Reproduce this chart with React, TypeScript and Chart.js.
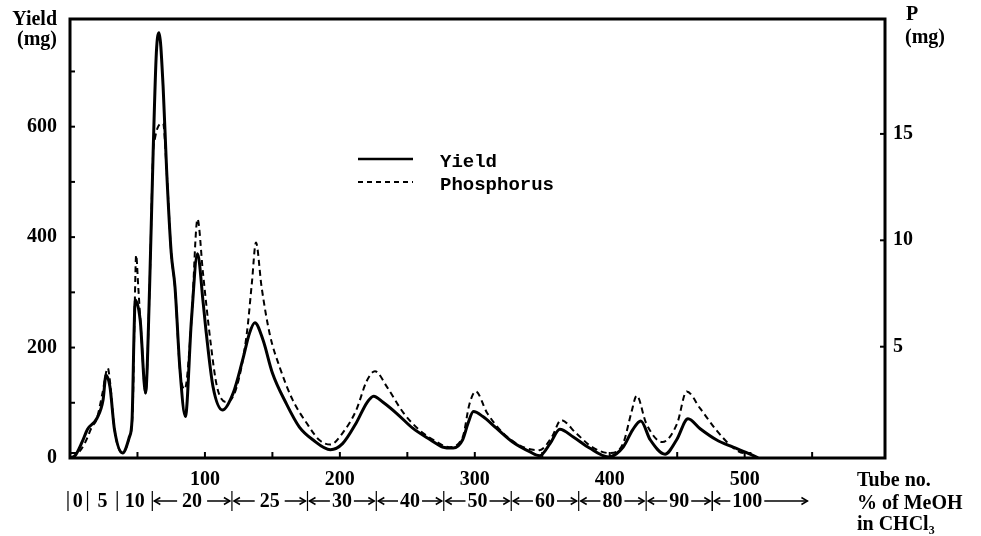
import { useEffect, useRef } from 'react';
import { Chart, registerables } from 'chart.js';

Chart.register(...registerables);

// Yield (mg), left axis
const yieldTubes = [0, 4, 9, 13, 20, 24.5, 26.7, 29.6, 33, 39, 44, 46, 47.5, 48.3, 52, 56, 59, 61.6, 64, 66, 69, 71.6, 75, 77.8, 81.5, 85.5, 90, 94.5, 98.7, 101, 106, 113, 121, 128, 133, 137, 143, 150, 160, 170, 180, 193, 202, 212, 220, 225, 232, 242, 254, 267, 276, 284, 291, 295, 299, 306, 316, 328, 341, 348, 356, 363, 373, 385, 399, 410, 417, 423, 430, 441, 449.6, 458, 467, 479, 491, 504, 510];
const yieldValues = [0, 5, 29, 52, 72, 105, 150, 129, 51, 9, 38, 70, 230, 286, 250, 118, 310, 552, 734, 770, 673, 522, 372, 310, 160, 75, 250, 370, 281, 226, 129, 87, 118, 178, 226, 245, 214, 154, 100, 56, 33, 15, 26, 63, 100, 112, 101, 81, 54, 33, 20, 18, 33, 63, 84, 75, 54, 29, 11, 4, 27, 52, 38, 18, 2, 20, 51, 67, 33, 7, 33, 71, 53, 33, 20, 7, 0];

// Phosphorus (mg), right axis
const phosTubes = [0, 5, 11, 16, 20, 24, 28, 29.6, 33, 39, 44, 46.4, 48, 49, 50.6, 53, 56, 59, 61.6, 63, 65, 69, 71.6, 75, 77.8, 81.5, 85, 90, 94.5, 98.5, 104, 109, 116, 123.5, 131, 134.8, 137.8, 142, 148, 155.6, 165, 175.5, 185, 193, 202, 212, 220, 226, 235, 247, 259, 272, 281, 291, 296, 300.7, 309, 321, 336, 348, 357, 364, 375, 387, 400, 410, 416, 420, 427, 439, 450, 457, 467, 479, 491, 499, 505];
const phosValues = [0, 0, 0.47, 1.2, 1.64, 2.8, 4.0, 3.4, 1.1, 0, 0.75, 1.9, 7.0, 9.3, 7.8, 5.4, 2.8, 7.8, 14.1, 14.8, 15.3, 15.5, 13.3, 9.4, 7.8, 3.9, 3.0, 6.2, 11.0, 8.5, 5.3, 3.1, 2.4, 3.1, 5.6, 8.0, 9.9, 7.8, 5.6, 4.0, 2.5, 1.4, 0.6, 0.4, 0.94, 2.0, 3.4, 3.85, 3.1, 1.9, 1.08, 0.52, 0.28, 0.75, 2.3, 2.9, 1.9, 0.94, 0.28, 0.14, 0.75, 1.55, 0.94, 0.28, 0, 0.47, 1.9, 2.7, 1.4, 0.52, 1.4, 2.9, 2.1, 1.08, 0.28, 0, 0];

// Axis ticks
const tubeTicks = [0, 50, 100, 150, 200, 250, 300, 350, 400, 450, 500, 550, 600];
const tubeTickLabels = [100, 200, 300, 400, 500];
const yieldTicks = [0, 100, 200, 300, 400, 500, 600, 700];
const yieldTickLabels = [0, 200, 400, 600];
const phosTicks = [5, 10, 15];

// % of MeOH in CHCl3 segments (tube numbers)
const meohLabels = ['0', '5', '10', '20', '25', '30', '40', '50', '60', '80', '90', '100'];
const meohBounds = [-1.5, 13, 35, 61, 120, 176, 227, 277, 327, 377, 427, 476, 548];

const seriesNames = ['Yield', 'Phosphorus'];

const SERIF = '"Liberation Serif", "Times New Roman", serif';
const MONO = '"Liberation Mono", "Courier New", monospace';

function arrowHead(ctx: CanvasRenderingContext2D, x: number, y: number, dir: number) {
  ctx.beginPath();
  ctx.moveTo(x - dir * 6, y - 3.5);
  ctx.lineTo(x, y);
  ctx.lineTo(x - dir * 6, y + 3.5);
  ctx.stroke();
}

const decorPlugin = {
  id: 'decor',
  afterDraw(chart: any) {
    const ctx: CanvasRenderingContext2D = chart.ctx;
    const { left, right, top, bottom } = chart.chartArea;
    const xs = chart.scales.x;
    const ys = chart.scales.y;
    const y2 = chart.scales.y2;
    ctx.save();
    ctx.strokeStyle = '#000';
    ctx.fillStyle = '#000';

    // frame
    ctx.lineWidth = 3;
    ctx.strokeRect(left, top, right - left, bottom - top);

    // inner tick marks
    ctx.lineWidth = 2;
    xs.ticks.forEach((t: any) => {
      if (t.value <= 0 || t.value >= 600) return;
      const px = xs.getPixelForValue(t.value);
      ctx.beginPath();
      ctx.moveTo(px, bottom);
      ctx.lineTo(px, bottom - 6);
      ctx.stroke();
    });
    ys.ticks.forEach((t: any) => {
      if (t.value <= 0) return;
      const py = ys.getPixelForValue(t.value);
      ctx.beginPath();
      ctx.moveTo(left, py);
      ctx.lineTo(left + 5, py);
      ctx.stroke();
    });
    y2.ticks.forEach((t: any) => {
      const py = y2.getPixelForValue(t.value);
      ctx.beginPath();
      ctx.moveTo(right, py);
      ctx.lineTo(right - 5, py);
      ctx.stroke();
    });

    // axis titles
    ctx.font = `bold 20px ${SERIF}`;
    ctx.textBaseline = 'alphabetic';
    ctx.textAlign = 'right';
    ctx.fillText('Yield', 57, 25);
    ctx.fillText('(mg)', 57, 45);
    ctx.textAlign = 'left';
    ctx.fillText('P', 906, 20);
    ctx.fillText('(mg)', 905, 43);
    ctx.fillText('Tube no.', 857, 486);
    ctx.fillText('% of MeOH', 857, 509);
    ctx.fillText('in CHCl\u2083', 857, 530);

    // MeOH segments
    const rowY = 501;
    ctx.lineWidth = 1.2;
    for (let i = 0; i < meohLabels.length; i++) {
      const x0 = xs.getPixelForValue(meohBounds[i]);
      const x1 = xs.getPixelForValue(meohBounds[i + 1]);
      const isLast = i === meohLabels.length - 1;
      ctx.beginPath();
      ctx.moveTo(x0, rowY - 10);
      ctx.lineTo(x0, rowY + 10);
      ctx.stroke();
      ctx.font = `bold 20px ${SERIF}`;
      ctx.textBaseline = 'middle';
      ctx.textAlign = 'center';
      const label = meohLabels[i];
      const w = ctx.measureText(label).width;
      if (i < 3) {
        ctx.fillText(label, (x0 + x1) / 2, rowY + 1);
        continue;
      }
      const gap = i < 5 ? 5 : 2;
      let cx = (x0 + x1) / 2;
      if (isLast) cx = x0 + 2 + 16 + gap + w / 2;
      ctx.fillText(label, cx, rowY + 1);
      const la0 = x0 + 2;
      const la1 = cx - w / 2 - gap;
      ctx.lineWidth = 1.5;
      ctx.beginPath();
      ctx.moveTo(la0, rowY);
      ctx.lineTo(la1, rowY);
      ctx.stroke();
      arrowHead(ctx, la0, rowY, -1);
      const ra0 = cx + w / 2 + gap;
      const ra1 = x1 - 2;
      ctx.beginPath();
      ctx.moveTo(ra0, rowY);
      ctx.lineTo(ra1, rowY);
      ctx.stroke();
      arrowHead(ctx, ra1, rowY, 1);
      ctx.lineWidth = 1.2;
    }
    const xl = xs.getPixelForValue(meohBounds[meohBounds.length - 2]);
    ctx.beginPath();
    ctx.moveTo(xl, rowY - 10);
    ctx.lineTo(xl, rowY + 10);
    ctx.stroke();

    // legend
    ctx.lineWidth = 2.5;
    ctx.setLineDash([]);
    ctx.beginPath();
    ctx.moveTo(358, 159);
    ctx.lineTo(413, 159);
    ctx.stroke();
    ctx.lineWidth = 2;
    ctx.setLineDash([5, 4]);
    ctx.beginPath();
    ctx.moveTo(358, 182);
    ctx.lineTo(413, 182);
    ctx.stroke();
    ctx.setLineDash([]);
    ctx.font = `bold 19px ${MONO}`;
    ctx.textAlign = 'left';
    ctx.textBaseline = 'alphabetic';
    ctx.fillText(seriesNames[0], 440, 167);
    ctx.fillText(seriesNames[1], 440, 190);

    ctx.restore();
  },
};

export default function App() {
  const ref = useRef<HTMLCanvasElement | null>(null);

  useEffect(() => {
    document.body.style.margin = '0';
    const canvas = ref.current;
    if (!canvas) return;
    const tickFont = { family: SERIF, size: 20, weight: 'bold' as const };
    const fitV = (w: number) => (s: any) => {
      s.width = w;
      s.paddingTop = 0;
      s.paddingBottom = 0;
    };
    const chart = new Chart(canvas, {
      type: 'line',
      data: {
        datasets: [
          {
            label: seriesNames[0],
            data: yieldTubes.map((t, i) => ({ x: t, y: yieldValues[i] })),
            yAxisID: 'y',
            borderColor: '#000',
            borderWidth: 3,
            pointRadius: 0,
            cubicInterpolationMode: 'monotone',
            fill: false,
          },
          {
            label: seriesNames[1],
            data: phosTubes.map((t, i) => ({ x: t, y: phosValues[i] })),
            yAxisID: 'y2',
            borderColor: '#000',
            borderWidth: 2,
            borderDash: [6, 4],
            pointRadius: 0,
            cubicInterpolationMode: 'monotone',
            fill: false,
          },
        ],
      },
      options: {
        responsive: false,
        animation: false,
        devicePixelRatio: 1,
        layout: { padding: { top: 19, left: 0, right: 0, bottom: 0 } },
        plugins: { legend: { display: false }, tooltip: { enabled: false } },
        scales: {
          x: {
            type: 'linear',
            position: 'bottom',
            min: 0,
            max: 604,
            afterBuildTicks: (s: any) => {
              s.ticks = tubeTicks.map((v) => ({ value: v }));
            },
            afterFit: (s: any) => {
              s.height = 78;
              s.paddingLeft = 0;
              s.paddingRight = 0;
            },
            grid: { display: false, drawTicks: false },
            border: { display: false },
            ticks: {
              autoSkip: false,
              maxRotation: 0,
              padding: 10,
              color: '#000',
              font: tickFont,
              callback: (v: any) => (tubeTickLabels.includes(Number(v)) ? String(v) : ''),
            },
          },
          y: {
            type: 'linear',
            position: 'left',
            min: 0,
            max: 795,
            afterBuildTicks: (s: any) => {
              s.ticks = yieldTicks.map((v) => ({ value: v }));
            },
            afterFit: fitV(70),
            grid: { display: false, drawTicks: false },
            border: { display: false },
            ticks: {
              padding: 13,
              color: '#000',
              font: tickFont,
              callback: (v: any) => (yieldTickLabels.includes(Number(v)) ? String(v) : ''),
            },
          },
          y2: {
            type: 'linear',
            position: 'right',
            min: -0.23,
            max: 20.4,
            afterBuildTicks: (s: any) => {
              s.ticks = phosTicks.map((v) => ({ value: v }));
            },
            afterFit: fitV(96),
            grid: { display: false, drawTicks: false },
            border: { display: false },
            ticks: {
              padding: 8,
              color: '#000',
              font: tickFont,
              callback: (v: any) => String(v),
            },
          },
        },
      },
      plugins: [decorPlugin],
    });
    return () => chart.destroy();
  }, []);

  return (
    <div style={{ width: 981, height: 536, background: '#fff' }}>
      <canvas ref={ref} width={981} height={536} style={{ display: 'block', width: 981, height: 536 }} />
    </div>
  );
}
